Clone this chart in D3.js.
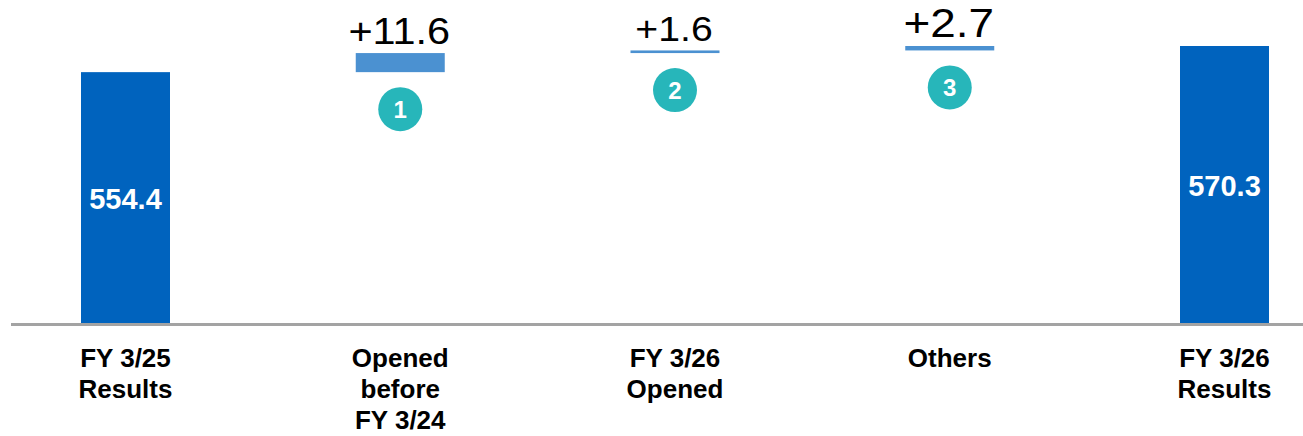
<!DOCTYPE html>
<html>
<head>
<meta charset="utf-8">
<script src="https://cdn.jsdelivr.net/npm/d3@7"></script>
<style>
	html, body { margin: 0; padding: 0; background: #fff; }
	svg { display: block; font-family: Arial, 'Liberation Sans', sans-serif; }
</style>
</head>
<body>
<div id="main-content"></div>
<script>
'use strict'

// chart data
const categories = ['FY 3/25|Results', 'Opened|before|FY 3/24', 'FY 3/26|Opened', 'Others', 'FY 3/26|Results']
const values = [554.4, 11.6, 1.6, 2.7, 570.3]
const kinds = ['total', 'delta', 'delta', 'delta', 'total']
const badges = [null, '1', '2', '3', null]
const yDomain = [400, 570.3]   // axis is cut, bars start from 400

const width = 1303,
		height = 436

const svg = d3.select('#main-content').append('svg')
	.attr('width', width)
	.attr('height', height)

const x = d3.scalePoint()
	.domain(categories)
	.range([125.5, 1224.5])

const y = d3.scaleLinear()
	.domain(yDomain)
	.range([326, 46])

const barWidth = 89

// build waterfall steps
let running = 0
const steps = categories.map((c, i) => {
	let start, end
	if (kinds[i] === 'total') {
		start = yDomain[0]
		end = values[i]
		running = values[i]
	} else {
		start = running
		end = running + values[i]
		running = end
	}
	return { cat: c, value: values[i], kind: kinds[i], start: start, end: end, badge: badges[i], i: i }
})

// font size for the delta labels (the last one is drawn bigger in the original)
const deltaFont = { 1: 37, 2: 35, 3: 41 }

svg.append('g').selectAll('rect')
	.data(steps)
	.enter().append('rect')
		.attr('x', d => x(d.cat) - barWidth / 2)
		.attr('width', barWidth)
		.attr('y', d => y(Math.max(d.start, d.end)))
		.attr('height', d => Math.abs(y(d.start) - y(d.end)))
		.attr('fill', d => d.kind === 'total' ? '#0063be' : '#4b91d1')

// baseline
svg.append('line')
	.attr('x1', 11)
	.attr('x2', width)
	.attr('y1', 324.5)
	.attr('y2', 324.5)
	.attr('stroke', '#a3a3a3')
	.attr('stroke-width', 3)

// totals: value inside bar
svg.append('g').selectAll('text')
	.data(steps.filter(d => d.kind === 'total'))
	.enter().append('text')
		.attr('x', d => x(d.cat))
		.attr('y', d => (y(d.start) + y(d.end)) / 2 + 10)
		.attr('text-anchor', 'middle')
		.attr('fill', '#fff')
		.attr('font-weight', 'bold')
		.attr('font-size', 29)
		.text(d => d.value.toFixed(1))

const deltas = steps.filter(d => d.kind === 'delta')

// delta labels above the bars
svg.append('g').selectAll('text')
	.data(deltas)
	.enter().append('text')
		.attr('text-anchor', 'middle')
		.attr('transform', d => 'translate(' + (x(d.cat) - 1) + ',' + (y(d.end) - 9) + ') scale(1.12,1)')
		.attr('fill', '#000')
		.attr('font-size', d => deltaFont[d.i])
		.text(d => '+' + d.value.toFixed(1))

// numbered badges under the delta bars
const badge = svg.append('g').selectAll('g')
	.data(deltas)
	.enter().append('g')
		.attr('transform', d => 'translate(' + x(d.cat) + ',' + (y(d.start) + 37) + ')')

badge.append('circle')
	.attr('r', 22)
	.attr('fill', '#27b6ba')

badge.append('text')
	.attr('text-anchor', 'middle')
	.attr('y', 8.5)
	.attr('fill', '#fff')
	.attr('font-weight', 'bold')
	.attr('font-size', 24)
	.text(d => d.badge)

// category labels
svg.append('g').selectAll('text')
	.data(steps)
	.enter().append('text')
		.attr('x', d => x(d.cat))
		.attr('text-anchor', 'middle')
		.attr('font-weight', 'bold')
		.attr('font-size', 26)
		.attr('fill', '#000')
		.each(function(d) {
			d3.select(this).selectAll('tspan')
				.data(d.cat.split('|'))
				.enter().append('tspan')
					.attr('x', x(d.cat))
					.attr('y', (t, j) => 367 + j * 31)
					.text(t => t)
		})
</script>
</body>
</html>
